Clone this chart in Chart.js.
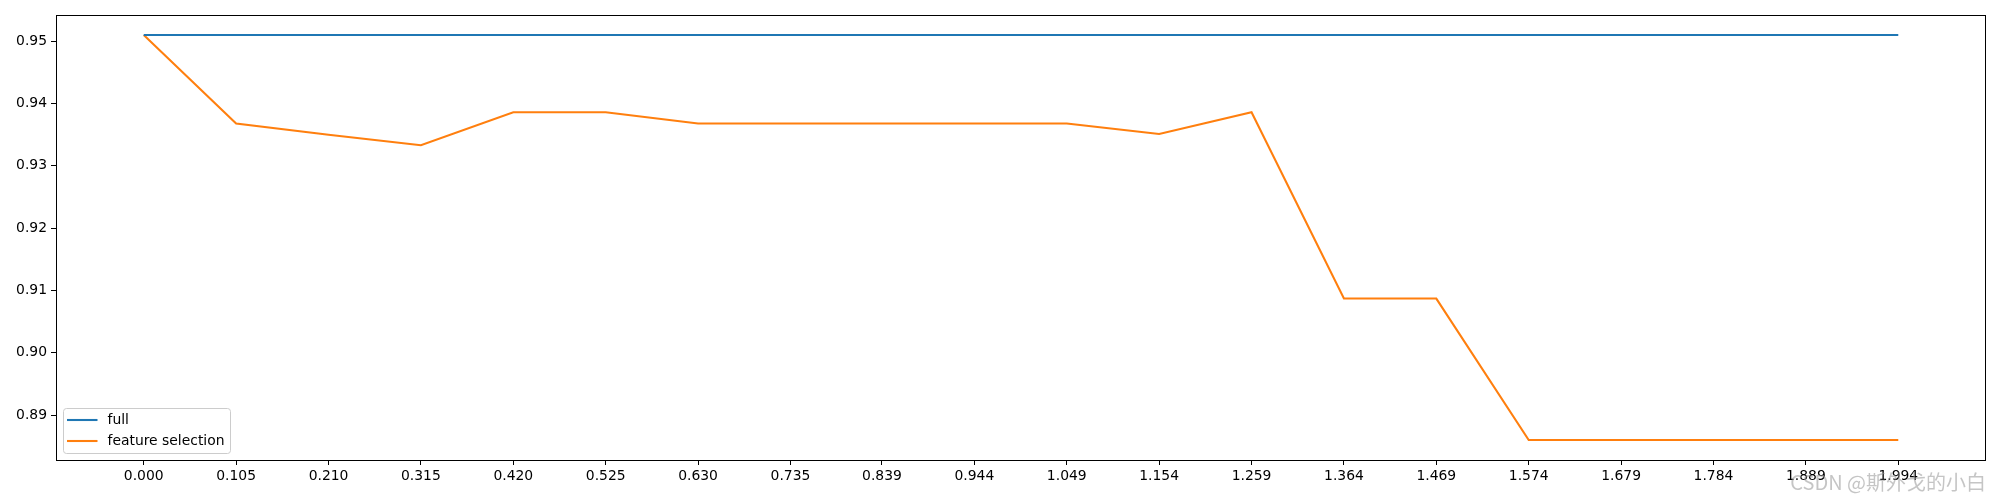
<!DOCTYPE html>
<html>
<head>
<meta charset="utf-8">
<script src="https://cdn.jsdelivr.net/npm/chart.js@4.4.1/dist/chart.umd.min.js"></script>
<style>
  body { margin: 0; background: #fff; }
</style>
</head>
<body>
<canvas id="grafico" width="2000" height="500"></canvas>
<script>
// datos
const xValues = [0.000, 0.105, 0.210, 0.315, 0.420, 0.525, 0.630, 0.735, 0.839, 0.944,
                 1.049, 1.154, 1.259, 1.364, 1.469, 1.574, 1.679, 1.784, 1.889, 1.994];
const xTickLabels = ['0.000', '0.105', '0.210', '0.315', '0.420', '0.525', '0.630', '0.735', '0.839', '0.944',
                     '1.049', '1.154', '1.259', '1.364', '1.469', '1.574', '1.679', '1.784', '1.889', '1.994'];
const yTicks = [0.89, 0.90, 0.91, 0.92, 0.93, 0.94, 0.95];
const fullScores = [0.9510, 0.9510, 0.9510, 0.9510, 0.9510, 0.9510, 0.9510, 0.9510, 0.9510, 0.9510,
                    0.9510, 0.9510, 0.9510, 0.9510, 0.9510, 0.9510, 0.9510, 0.9510, 0.9510, 0.9510];
const selectionScores = [0.9510, 0.9368, 0.9350, 0.9333, 0.9386, 0.9386, 0.9368, 0.9368, 0.9368, 0.9368,
                         0.9368, 0.9351, 0.9386, 0.9087, 0.9087, 0.8860, 0.8860, 0.8860, 0.8860, 0.8860];
const seriesNames = ['full', 'feature selection'];
const watermark = 'CSDN @斯外戈的小白';

Chart.defaults.font.family = "'DejaVu Sans', sans-serif";
Chart.defaults.font.size = 13.9;
Chart.defaults.color = '#000';

// marco de los ejes (4 lados)
const marco = {
    id: 'marco',
    afterDatasetsDraw(chart) {
        const { ctx, chartArea: a } = chart;
        ctx.save();
        ctx.strokeStyle = '#000';
        ctx.lineWidth = 1;
        ctx.strokeRect(Math.round(a.left) + 0.5, Math.round(a.top) + 0.5,
                       Math.round(a.right - a.left) - 1, Math.round(a.bottom - a.top));
        ctx.restore();
    }
};

// leyenda dentro del area, abajo a la izquierda
const leyenda = {
    id: 'leyenda',
    afterDraw(chart) {
        const { ctx, chartArea: a } = chart;
        const x = a.left + 7.5, y = a.bottom - 51.5, w = 167, h = 45;
        ctx.save();
        ctx.beginPath();
        ctx.roundRect(x, y, w, h, 3);
        ctx.fillStyle = 'rgba(255,255,255,0.8)';
        ctx.fill();
        ctx.strokeStyle = '#cccccc';
        ctx.lineWidth = 1;
        ctx.stroke();
        ctx.font = "13.9px 'DejaVu Sans'";
        ctx.textBaseline = 'middle';
        chart.data.datasets.forEach((ds, i) => {
            const ly = y + 11.5 + i * 21;
            ctx.strokeStyle = ds.borderColor;
            ctx.lineWidth = 2.08;
            ctx.beginPath();
            ctx.moveTo(x + 3.5, ly);
            ctx.lineTo(x + 34, ly);
            ctx.stroke();
            ctx.fillStyle = '#000';
            ctx.fillText(ds.label, x + 44, ly);
        });
        ctx.restore();
    }
};

const marcaAgua = {
    id: 'marcaAgua',
    afterDraw(chart) {
        const { ctx } = chart;
        ctx.save();
        ctx.font = "20px 'Noto Sans CJK SC'";
        ctx.fillStyle = 'rgba(150,150,150,0.55)';
        ctx.textAlign = 'right';
        ctx.textBaseline = 'middle';
        ctx.fillText(watermark, 1986, 482);
        ctx.restore();
    }
};

const ctx = document.getElementById('grafico').getContext('2d');
const grafico = new Chart(ctx, {
    type: 'line',
    data: {
        datasets: [{
            label: seriesNames[0],
            data: xValues.map((v, i) => ({ x: v, y: fullScores[i] })),
            borderColor: '#1f77b4',
            borderWidth: 2.08,
            pointRadius: 0,
            tension: 0
        }, {
            label: seriesNames[1],
            data: xValues.map((v, i) => ({ x: v, y: selectionScores[i] })),
            borderColor: '#ff7f0e',
            borderWidth: 2.08,
            pointRadius: 0,
            tension: 0
        }]
    },
    options: {
        responsive: false,
        animation: false,
        layout: { padding: { left: 0, right: 14, top: 15, bottom: 0 } },
        plugins: {
            legend: { display: false },
            tooltip: { enabled: false }
        },
        scales: {
            x: {
                type: 'linear',
                min: -0.0997,
                max: 2.0937,
                border: { display: false },
                grid: { display: true, drawOnChartArea: false, drawTicks: true, tickLength: 5, color: '#000' },
                afterBuildTicks: (scale) => { scale.ticks = xValues.map(v => ({ value: v })); },
                afterFit: (scale) => { scale.height = 40; },
                ticks: {
                    autoSkip: false,
                    maxRotation: 0,
                    padding: 3,
                    callback: (v, i) => xTickLabels[i]
                }
            },
            y: {
                min: 0.8828,
                max: 0.9542,
                border: { display: false },
                grid: { display: true, drawOnChartArea: false, drawTicks: true, tickLength: 5, color: '#000' },
                afterBuildTicks: (scale) => { scale.ticks = yTicks.map(v => ({ value: v })); },
                afterFit: (scale) => { scale.width = 56; },
                ticks: {
                    padding: 4,
                    callback: (v) => v.toFixed(2)
                }
            }
        }
    },
    plugins: [marco, leyenda, marcaAgua]
});
</script>
</body>
</html>
